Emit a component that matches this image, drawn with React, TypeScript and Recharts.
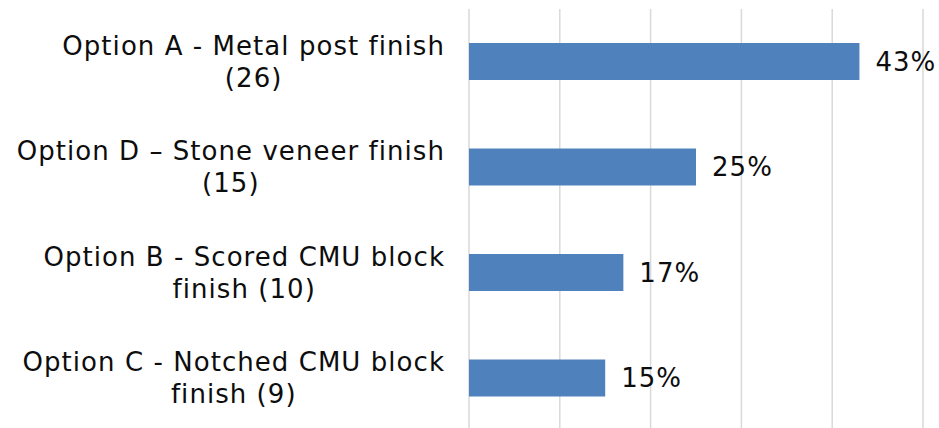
import { Bar, BarChart, CartesianGrid, LabelList, XAxis, YAxis } from "recharts";

// categories, top to bottom ("\n" marks the line break in the label)
const options = [
  "Option A - Metal post finish\n(26)",
  "Option D – Stone veneer finish\n(15)",
  "Option B - Scored CMU block\nfinish (10)",
  "Option C - Notched CMU block\nfinish (9)",
];
const shares = [43, 25, 17, 15];
const xTicks = [0, 10, 20, 30, 40, 50];

const data = options.map((name, i) => ({ name, value: shares[i] }));

const FONT = '"DejaVu Sans", sans-serif';
const FS = 26;
const SPACING = 1.05;
const LINE_H = 32;
const LABEL_RIGHT = 445;

let ctx: CanvasRenderingContext2D | null = null;
function textWidth(s: string) {
  if (!ctx) ctx = document.createElement("canvas").getContext("2d");
  if (!ctx) return s.length * (FS * 0.6 + SPACING);
  ctx.font = `${FS}px ${FONT}`;
  (ctx as any).letterSpacing = `${SPACING}px`;
  return ctx.measureText(s).width;
}

function CategoryTick({ y, payload }: any) {
  const lines = String(payload.value).split("\n");
  const w = Math.max(...lines.map(textWidth));
  const cx = LABEL_RIGHT - w / 2;
  const top = y - ((lines.length - 1) * LINE_H) / 2;
  return (
    <g>
      {lines.map((l, i) => (
        <text
          key={i}
          x={cx}
          y={top + i * LINE_H}
          dy="0.35em"
          textAnchor="middle"
          fontFamily={FONT}
          fontSize={FS}
          letterSpacing={SPACING}
          fill="#0d0d0d"
        >
          {l}
        </text>
      ))}
    </g>
  );
}

const NoTick = () => <g />;

export default function App() {
  return (
    <div style={{ position: "absolute", left: 0, top: 0, width: 939, height: 428, overflow: "hidden", background: "#fff" }}>
      <BarChart
        width={939}
        height={431}
        data={data}
        layout="vertical"
        margin={{ top: 9, right: 16, bottom: 0, left: 0 }}
      >
        <CartesianGrid horizontal={false} stroke="#d9d9d9" strokeWidth={1.5} />
        <XAxis
          type="number"
          domain={[0, 50]}
          ticks={xTicks}
          interval={0}
          tick={<NoTick />}
          axisLine={false}
          tickLine={false}
          height={0}
        />
        <YAxis
          type="category"
          dataKey="name"
          width={469}
          axisLine={false}
          tickLine={false}
          tick={<CategoryTick />}
          interval={0}
        />
        <Bar dataKey="value" fill="#4f81bd" barSize={37} isAnimationActive={false}>
          <LabelList
            dataKey="value"
            position="right"
            offset={16}
            formatter={(v: any) => `${v}%`}
            style={{ fontFamily: FONT, fontSize: FS, letterSpacing: SPACING, fill: "#0d0d0d" }}
          />
        </Bar>
      </BarChart>
    </div>
  );
}
